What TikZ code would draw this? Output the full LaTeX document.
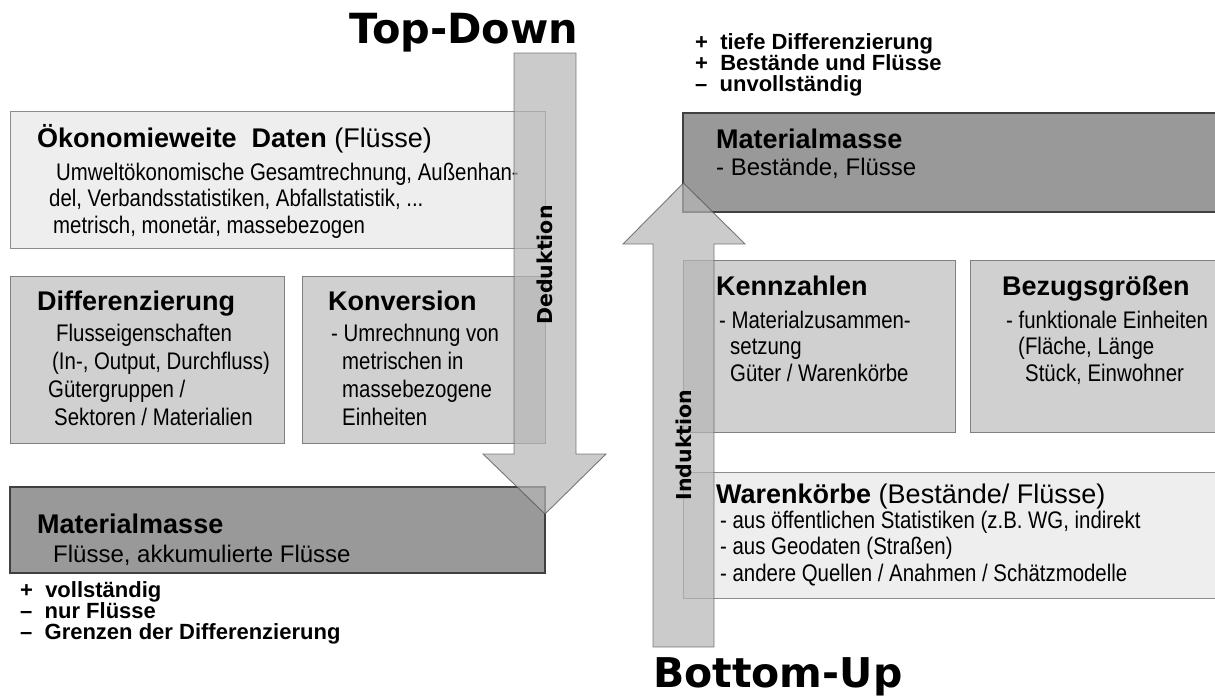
\documentclass[tikz,border=0pt]{standalone}
\usepackage{fontspec}
\setmainfont{Liberation Sans}
\newfontfamily\narrowfont[FakeStretch=0.85]{Liberation Sans}
\newfontfamily\titlefont{DejaVu Sans}

\definecolor{boxlight}{HTML}{EEEEEE}
\definecolor{boxmid}{HTML}{D0D0D0}
\definecolor{boxdark}{HTML}{999999}
\definecolor{arrowgray}{HTML}{B6B6B6}

\tikzset{
  lightbox/.style={fill=boxlight, draw=black!45, line width=0.9pt},
  midbox/.style={fill=boxmid, draw=black!50, line width=0.9pt},
  darkbox/.style={fill=boxdark, draw=black!75, line width=1.4pt},
  blockarrow/.style={fill=arrowgray, draw=black!70, line width=0.9pt, opacity=0.7},
  boxhead/.style={font=\fontsize{27}{30}\selectfont, anchor=base west, inner sep=0pt},
  boxbody/.style={font=\narrowfont\fontsize{24}{26.5}\selectfont, anchor=base west, inner sep=0pt, align=left},
  boxbodywide/.style={boxbody, font=\narrowfont\fontsize{24}{28}\selectfont},
  boxplain/.style={boxbody, font=\fontsize{24}{27}\selectfont},
  proscons/.style={font=\fontsize{22}{21}\selectfont\bfseries, anchor=base west, inner sep=0pt, align=left},
  bigtitle/.style={font=\titlefont\fontsize{41.5}{50}\selectfont\bfseries, anchor=base west, inner sep=0pt},
  arrowlabel/.style={font=\titlefont\fontsize{20.5}{24}\selectfont\bfseries, rotate=90, inner sep=0pt}
}

\begin{document}
\begin{tikzpicture}[x=1pt, y=-1pt]
  \clip (0,0) rectangle (1215,697);
  \fill[white] (0,0) rectangle (1215,697);

  % top-down side (multi-line nodes sit on the baseline of their last line)
  \draw[lightbox] (10,111) rectangle (545,248);
  \draw[midbox] (10,276) rectangle (284,443);
  \draw[midbox] (302,276) rectangle (545,443);
  \draw[darkbox] (10,487) rectangle (545,573);

  \node[boxhead] (oekoHead) at (37,147) {\textbf{Ökonomieweite\ \ Daten} (Flüsse)};
  \node[boxbody] (oekoBody) at (49,233) {\hspace*{7pt}Umweltökonomische Gesamtrechnung, Außenhan-\\
    del, Verbandsstatistiken, Abfallstatistik, ...\\
    \hspace*{4pt}metrisch, monetär, massebezogen};

  \node[boxhead] (diffHead) at (37,310) {\textbf{Differenzierung}};
  \node[boxbodywide] (diffBody) at (48,425) {\hspace*{8pt}Flusseigenschaften\\
    \hspace*{4pt}(In-, Output, Durchfluss)\\
    Gütergruppen /\\
    \hspace*{6pt}Sektoren / Materialien};

  \node[boxhead] (konvHead) at (328,310) {\textbf{Konversion}};
  \node[boxbodywide] (konvBody) at (331,425) {- Umrechnung von\\
    \hspace*{11pt}metrischen in\\
    \hspace*{11pt}massebezogene\\
    \hspace*{11pt}Einheiten};

  \node[boxhead] (massLeftHead) at (37,533) {\textbf{Materialmasse}};
  \node[boxplain] (massLeftBody) at (53,562) {Flüsse, akkumulierte Flüsse};

  \node[proscons] (prosLeft) at (20,639) {+\ \ vollständig\\–\ \ nur Flüsse\\–\ \ Grenzen der Differenzierung};

  % bottom-up side
  \draw[darkbox] (683,113) rectangle (1230,212);
  \draw[midbox] (683,260) rectangle (955,432);
  \draw[midbox] (970,260) rectangle (1230,432);
  \draw[lightbox] (683,472) rectangle (1230,598);

  \node[proscons] (prosRight) at (695,91) {+\ \ tiefe Differenzierung\\+\ \ Bestände und Flüsse\\–\ \ unvollständig};

  \node[boxhead] (massRightHead) at (716,148) {\textbf{Materialmasse}};
  \node[boxplain] (massRightBody) at (716,175) {- Bestände, Flüsse};

  \node[boxhead] (kennHead) at (716,295) {\textbf{Kennzahlen}};
  \node[boxbody] (kennBody) at (719,381) {- Materialzusammen-\\
    \hspace*{11pt}setzung\\
    \hspace*{11pt}Güter / Warenkörbe};

  \node[boxhead] (bezugHead) at (1002,295) {\textbf{Bezugsgrößen}};
  \node[boxbody] (bezugBody) at (1006,381) {- funktionale Einheiten\\
    \hspace*{12pt}(Fläche, Länge\\
    \hspace*{19pt}Stück, Einwohner};

  \node[boxhead] (warenHead) at (716,503) {\textbf{Warenkörbe} (Bestände/ Flüsse)};
  \node[boxbody] (warenBody) at (720,581) {- aus öffentlichen Statistiken (z.B. WG, indirekt\\
    - aus Geodaten (Straßen)\\
    - andere Quellen / Anahmen / Schätzmodelle};

  % block arrows
  \draw[blockarrow] (514,53) -- (576,53) -- (576,454) -- (606,454) -- (545,514)
    -- (483,454) -- (514,454) -- cycle;
  \draw[blockarrow] (653,647) -- (714,647) -- (714,244) -- (745,244) -- (683.5,183)
    -- (623,244) -- (653,244) -- cycle;

  \node[arrowlabel] (deduktion) at (545,265) {Deduktion};
  \node[arrowlabel] (induktion) at (683.5,445) {Induktion};

  \node[bigtitle] (topdown) at (349,43) {Top-Down};
  \node[bigtitle, font=\titlefont\fontsize{41}{50}\selectfont\bfseries] (bottomup) at (653,687) {Bottom-Up};
\end{tikzpicture}
\end{document}
